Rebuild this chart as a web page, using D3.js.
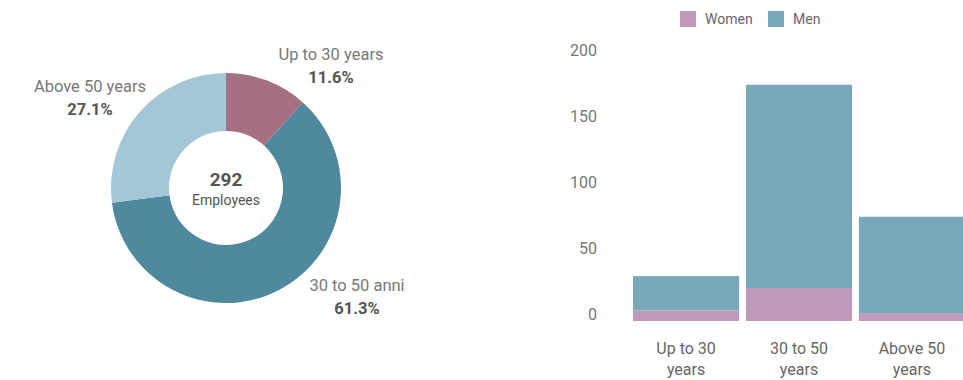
<!DOCTYPE html>
<html><head><meta charset="utf-8">
<script src="https://cdnjs.cloudflare.com/ajax/libs/d3/7.8.5/d3.min.js"></script>
<style>body{margin:0;background:#fff;font-family:Roboto,"DejaVu Sans",sans-serif;}</style>
</head><body><svg id="c" width="963" height="380"></svg>
<script>
const ageGroups = ["Up to 30 years","30 to 50 anni","Above 50 years"];
const agePercents = ["11.6%","61.3%","27.1%"];
const ageCounts = [34,179,79];
const totalLabel = "292";
const centerLabel = "Employees";
const barCategories = [["Up to 30","years"],["30 to 50","years"],["Above 50","years"]];
const women = [8,25,6];
const men = [26,154,73];
const yTicks = [0,50,100,150,200];
const seriesNames = ["Women","Men"];

const svg = d3.select("#c");
const pieColors = ["#a67084","#4e899d","#a5c6d6"];
const barColors = ["#bf9aba","#78a8ba"];

// Donut
const cx=226, cy=188, R=115, r=57;
const g = svg.append("g").attr("transform",`translate(${cx},${cy})`);
const pie = d3.pie().sort(null).value(d=>d);
const arc = d3.arc().innerRadius(r).outerRadius(R);
g.selectAll("path").data(pie(ageCounts)).join("path")
  .attr("d",arc).attr("fill",(d,i)=>pieColors[i]);
g.append("text").attr("text-anchor","middle").attr("y",-2)
  .attr("font-size",19).attr("font-weight","bold").attr("fill","#555").text(totalLabel);
g.append("text").attr("text-anchor","middle").attr("y",17)
  .attr("font-size",14).attr("fill","#555").text(centerLabel);
const labelPos = [[105,-128],[131,103],[-136,-96]];
ageGroups.forEach((n,i)=>{
  const t = g.append("text").attr("text-anchor","middle")
    .attr("transform",`translate(${labelPos[i][0]},${labelPos[i][1]})`);
  t.append("tspan").attr("x",0).attr("y",0).attr("font-size",16.5).attr("fill","#777").text(n);
  t.append("tspan").attr("x",0).attr("y",23).attr("font-size",16.5).attr("font-weight","bold").attr("fill","#555").text(agePercents[i]);
});

// Bars
const x = d3.scaleBand().domain(d3.range(3)).range([633,965]).paddingInner(0.06).paddingOuter(0);
const y = d3.scaleLinear().domain([0,200]).range([321,57]);
const stackData = d3.range(3).map(i=>({Women:women[i],Men:men[i]}));
const stacked = d3.stack().keys(seriesNames)(stackData);
svg.append("g").selectAll("g").data(stacked).join("g")
  .attr("fill",(d,i)=>barColors[i])
  .selectAll("rect").data(d=>d).join("rect")
  .attr("x",(d,i)=>x(i)).attr("width",x.bandwidth())
  .attr("y",d=>y(d[1])).attr("height",d=>y(d[0])-y(d[1]));

const yAxis = svg.append("g").attr("transform","translate(597,-7)")
  .call(d3.axisLeft(y).tickValues(yTicks).tickSize(0).tickPadding(0));
yAxis.select(".domain").remove();
yAxis.selectAll("text").attr("font-size",16).attr("fill","#777").attr("font-family","Roboto,sans-serif");

barCategories.forEach((lines,i)=>{
  const t = svg.append("text").attr("text-anchor","middle").attr("font-size",16).attr("fill","#666");
  lines.forEach((l,j)=>t.append("tspan").attr("x",x(i)+x.bandwidth()/2).attr("y",354+j*21).text(l));
});

// Legend
const leg = svg.append("g");
const legX = [680,768];
seriesNames.forEach((n,i)=>{
  leg.append("rect").attr("x",legX[i]).attr("y",11).attr("width",16).attr("height",16).attr("fill",barColors[i]);
  leg.append("text").attr("x",legX[i]+25).attr("y",24).attr("font-size",14).attr("fill","#666").text(n);
});
</script></body></html>
